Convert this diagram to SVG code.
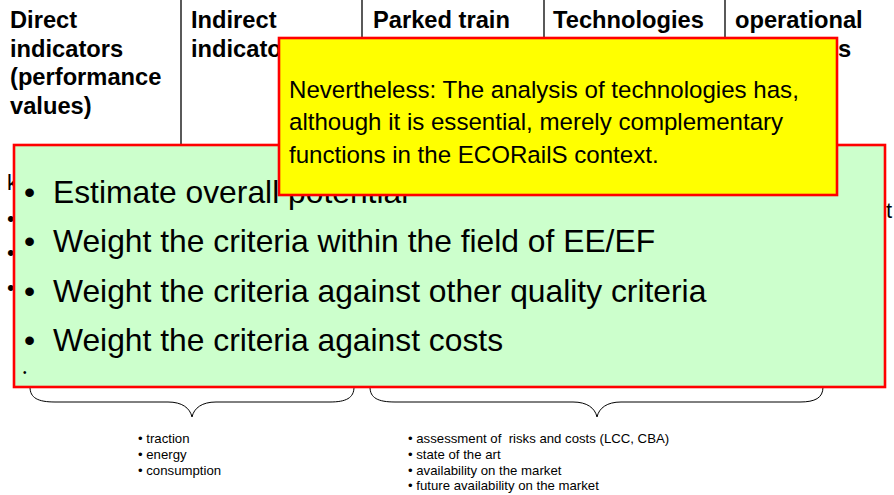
<svg xmlns="http://www.w3.org/2000/svg" width="894" height="495" viewBox="0 0 894 495">
<style>
text{font-family:"Liberation Sans",Arial,sans-serif;fill:#000}
.hd{font-size:23.7px;font-weight:bold}
.bg{font-size:22px}
.yl{font-size:24.1px}
.gr{font-size:31.8px}
.sm{font-size:13.2px}
.sep{stroke:#000;stroke-width:1.3}
.box{stroke:#FF0000;stroke-width:2.6}
.brace{fill:none;stroke:#000;stroke-width:1}
</style>
<rect width="894" height="495" fill="#fff"/>
<g id="headers">
<line class="sep" x1="181" y1="0" x2="181" y2="145"/>
<line class="sep" x1="362" y1="0" x2="362" y2="145"/>
<line class="sep" x1="544" y1="0" x2="544" y2="145"/>
<line class="sep" x1="725" y1="0" x2="725" y2="145"/>
<text class="hd" x="10" y="28">Direct</text>
<text class="hd" x="10" y="57">indicators</text>
<text class="hd" x="10" y="85">(performance</text>
<text class="hd" x="10" y="114">values)</text>
<text class="hd" x="191" y="28">Indirect</text>
<text class="hd" x="191" y="57">indicators</text>
<text class="hd" x="373" y="28">Parked train</text>
<text class="hd" x="553" y="28">Technologies</text>
<text class="hd" x="735" y="28">operational</text>
<text class="hd" x="838" y="57">s</text>
</g>
<g id="background-list">
<text class="bg" x="7" y="190">k</text>
<text class="bg" x="7" y="226">•</text>
<text class="bg" x="7" y="260">•</text>
<text class="bg" x="7" y="295">•</text>
<text class="bg" x="886" y="218">t</text>
</g>
<g id="connectors">
<path class="brace" d="M30,387 C30,398 38,402 55,402 L168,402 C182,402 190,408 192,417 C194,408 202,402 216,402 L330,402 C346,402 354,398 354,387"/>
<path class="brace" d="M370,387 C370,398 378,402 395,402 L573,402 C587,402 595,408 597,417 C599,408 607,402 621,402 L800,402 C815,402 823,398 823,387"/>
</g>
<g id="green-box">
<rect class="box" x="14" y="145" width="871" height="242" fill="#CCFFCC"/>
<text class="gr" x="24" y="203">•</text>
<text class="gr" x="53" y="203">Estimate overall potential</text>
<text class="gr" x="24" y="252">•</text>
<text class="gr" x="53" y="252">Weight the criteria within the field of EE/EF</text>
<text class="gr" x="24" y="302">•</text>
<text class="gr" x="53" y="302">Weight the criteria against other quality criteria</text>
<text class="gr" x="24" y="351">•</text>
<text class="gr" x="53" y="351">Weight the criteria against costs</text>
<text x="23" y="376" style="font-size:10px">•</text>
</g>
<g id="yellow-box">
<rect class="box" x="279" y="38" width="558" height="157" fill="#FFFF00"/>
<text class="yl" x="289" y="98">Nevertheless: The analysis of technologies has,</text>
<text class="yl" x="289" y="130">although it is essential, merely complementary</text>
<text class="yl" x="289" y="163">functions in the ECORailS context.</text>
</g>
<g id="left-notes">
<text class="sm" x="138" y="443">• traction</text>
<text class="sm" x="138" y="459">• energy</text>
<text class="sm" x="138" y="475">• consumption</text>
</g>
<g id="right-notes">
<text class="sm" x="408" y="443" xml:space="preserve">• assessment of  risks and costs (LCC, CBA)</text>
<text class="sm" x="408" y="459">• state of the art</text>
<text class="sm" x="408" y="475">• availability on the market</text>
<text class="sm" x="408" y="490">• future availability on the market</text>
</g>
</svg>
